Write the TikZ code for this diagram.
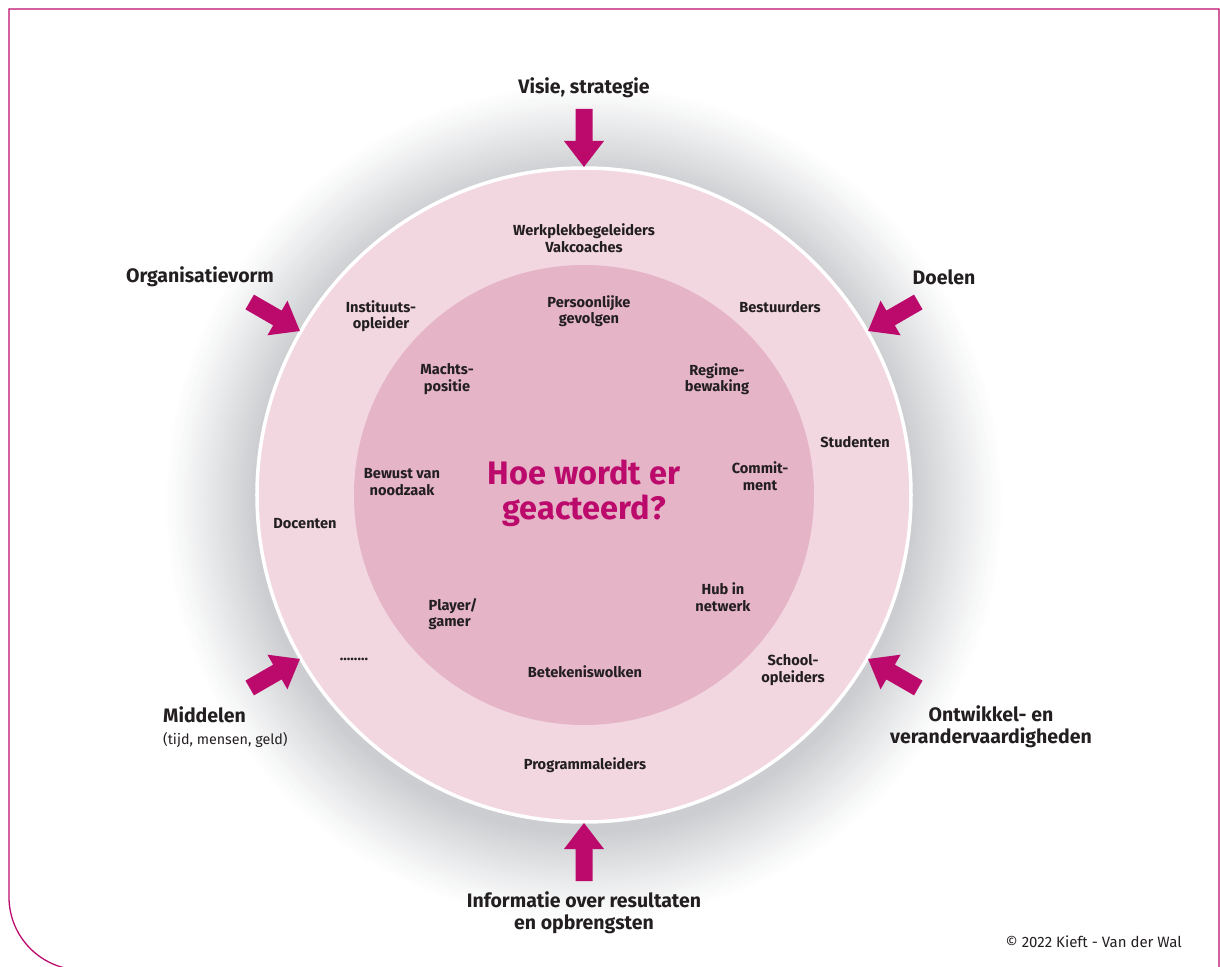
\documentclass[tikz,border=0pt]{standalone}
\usepackage{fontspec}
\setmainfont{Fira Sans}
\usetikzlibrary{positioning,calc}
\definecolor{magenta}{RGB}{187,10,107}
\definecolor{ringpink}{RGB}{242,215,225}
\definecolor{corepink}{RGB}{229,180,199}
\definecolor{shadowgray}{RGB}{203,205,208}
\definecolor{textdark}{RGB}{35,31,32}
\tikzset{
	heading/.style={font=\fontsize{19.5}{22}\selectfont\bfseries, text=textdark},
	ring/.style={font=\fontsize{14.6}{16.5}\selectfont\bfseries, text=textdark},
	question/.style={font=\fontsize{32.5}{35}\selectfont\bfseries, text=magenta},
	note/.style={font=\fontsize{15}{17}\selectfont, text=textdark}
}

\begin{document}
\begin{tikzpicture}[x=1pt, y=1pt]
	\useasboundingbox (-584,-471) rectangle (636,495);
	\clip (-584,-471) rectangle (636,495);
	\draw[magenta, line width=1.3] (635,-480) -- (635,486) -- (-575,486) -- (-575,-402)
		arc[start angle=180, end angle=270, radius=73] -- (635,-475);

	\foreach \i in {0,...,45}{
		\pgfmathsetmacro{\r}{420-\i*2}
		\pgfmathsetmacro{\p}{100*(\i/45)^1.1}
		\fill[shadowgray!\p!white] (0,-8) circle[radius=\r];
	}
	\fill[ringpink] (0,0) circle[radius=327];
	\draw[white, line width=3.5] (0,0) circle[radius=327];
	\fill[corepink] (0,0) circle[radius=230];

	\foreach \a in {30,90,...,330}
		\fill[magenta, rotate=\a] (328,0) -- (354,20) -- (354,8.5) -- (386,8.5)
			-- (386,-8.5) -- (354,-8.5) -- (354,-20) -- cycle;

	\begin{scope}
		\tikzstyle{every node}=[align=center, inner sep=1pt]
		\node[heading] (visie) at (0,407) {Visie, strategie};
		\node[heading] (orgvorm) at (-384,218) {Organisatievorm};
		\node[heading] (doelen) at (360,218) {Doelen};
		\node[heading, anchor=west, align=left] (middelen) at (-422,-232)
			{Middelen\\{\mdseries\fontsize{14.3}{16}\selectfont (tijd, mensen, geld)}};
		\node[heading] (ontwikkel) at (407,-232) {Ontwikkel- en\\verandervaardigheden};
		\node[heading] (informatie) at (0,-418) {Informatie over resultaten\\en opbrengsten};
		\node[note, anchor=east] (copyright) at (599,-447) {© 2022 Kieft - Van der Wal};

		\node[ring] (werkplek) at (0,257) {Werkplekbegeleiders\\Vakcoaches};
		\node[ring] (instituut) at (-203,179) {Instituuts-\\opleider};
		\node[ring] (bestuurders) at (196,188) {Bestuurders};
		\node[ring] (studenten) at (271,53) {Studenten};
		\node[ring] (docenten) at (-279,-29) {Docenten};
		\node[ring] (overig) at (-230,-164) {........};
		\node[ring] (school) at (209,-175) {School-\\opleiders};
		\node[ring] (programma) at (1,-270) {Programmaleiders};

		\node[ring] (persoonlijk) at (5,184) {Persoonlijke\\gevolgen};
		\node[ring] (machts) at (-137,116) {Machts-\\positie};
		\node[ring] (regime) at (133,116) {Regime-\\bewaking};
		\node[ring] (bewust) at (-182,13) {Bewust van\\noodzaak};
		\node[ring] (commit) at (176,19) {Commit-\\ment};
		\node[question] (vraag) at (0,2) {Hoe wordt er\\geacteerd?};
		\node[ring] (hub) at (139,-102) {Hub in\\netwerk};
		\node[ring, align=left] (player) at (-131,-119) {Player/\\gamer};
		\node[ring] (betekenis) at (1,-177) {Betekeniswolken};
	\end{scope}
\end{tikzpicture}
\end{document}
